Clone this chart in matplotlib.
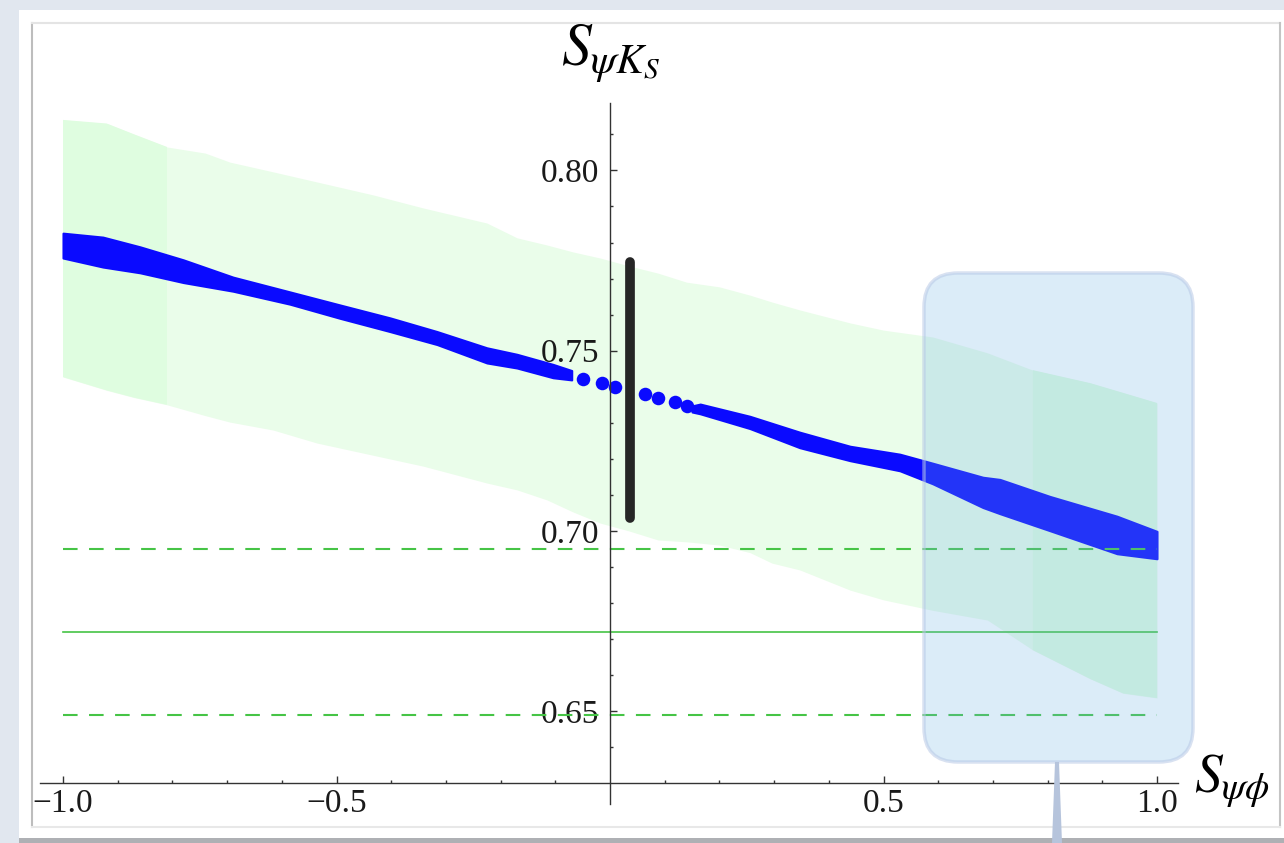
import numpy as np
import matplotlib.pyplot as plt
from matplotlib.patches import Rectangle, FancyBboxPatch, Polygon
from matplotlib.transforms import IdentityTransform

# allowed region (light green scan)
green_x = [-1.0, -0.92, -0.87, -0.81, -0.74, -0.695, -0.616, -0.536, -0.433, -0.342,
           -0.225, -0.17, -0.115, -0.068, -0.018, 0.035, 0.088, 0.14, 0.2, 0.256,
           0.296, 0.347, 0.439, 0.5, 0.59, 0.69, 0.773, 0.878, 0.938, 1.0]
green_top = [0.814, 0.813, 0.810, 0.8065, 0.8048, 0.8023, 0.7996, 0.7968, 0.7932, 0.7896,
             0.7854, 0.7813, 0.7793, 0.7774, 0.7757, 0.7735, 0.7715, 0.769, 0.7677, 0.7654,
             0.7635, 0.7613, 0.7577, 0.7557, 0.7538, 0.7494, 0.7446, 0.741, 0.7383, 0.7355]
green_bot = [0.7427, 0.739, 0.737, 0.735, 0.732, 0.7302, 0.728, 0.7244, 0.721, 0.718,
             0.7133, 0.7114, 0.7086, 0.7053, 0.7022, 0.700, 0.6975, 0.697, 0.6961, 0.694,
             0.6911, 0.6892, 0.6836, 0.6809, 0.678, 0.6753, 0.667, 0.659, 0.655, 0.6537]

# blue band, left and right branches
blue_lx = [-1.0, -0.927, -0.859, -0.78, -0.689, -0.585, -0.494, -0.402, -0.316, -0.225, -0.17, -0.104, -0.07]
blue_ltop = [0.7826, 0.7815, 0.7788, 0.7752, 0.7704, 0.7663, 0.7627, 0.7591, 0.7553, 0.7508, 0.749, 0.7462, 0.7445]
blue_lbot = [0.7757, 0.7732, 0.7716, 0.7689, 0.7665, 0.7629, 0.759, 0.7553, 0.7517, 0.7466, 0.7452, 0.7425, 0.7419]

blue_rx = [0.15, 0.165, 0.256, 0.347, 0.439, 0.53, 0.59, 0.682, 0.713, 0.804, 0.927, 1.0]
blue_rtop = [0.7347, 0.7352, 0.7318, 0.7274, 0.7235, 0.7213, 0.7188, 0.7149, 0.7143, 0.7096, 0.7041, 0.6999]
blue_rbot = [0.7330, 0.7325, 0.7284, 0.7231, 0.7195, 0.7167, 0.7131, 0.7065, 0.7048, 0.7001, 0.6937, 0.6923]

# isolated points near S_psiphi = 0
dots_x = [-0.049, -0.015, 0.009, 0.064, 0.088, 0.119, 0.141]
dots_y = [0.7422, 0.7411, 0.740, 0.7381, 0.737, 0.7359, 0.7348]

# SM value
sm_x = 0.0366
sm_y = [0.7035, 0.7745]

# experiment: central value and 1 sigma
exp_c = 0.672
exp_lo = 0.649
exp_hi = 0.695

x_major = [-1.0, -0.5, 0.5, 1.0]
x_labels = ['\u22121.0', '\u22120.5', '0.5', '1.0']
y_major = [0.65, 0.70, 0.75, 0.80]
y_labels = ['0.65', '0.70', '0.75', '0.80']

W, H = 1284, 843
plt.rcParams['font.family'] = ['Liberation Serif', 'DejaVu Serif']
plt.rcParams['mathtext.fontset'] = 'stix'

fig = plt.figure(figsize=(W / 100, H / 100), dpi=100)
fig.patch.set_facecolor('#e1e7ef')
px = IdentityTransform()

# paper frame
fig.add_artist(Rectangle((19, 0), W - 19, H - 838, fc='#aeb0b4', lw=0, transform=px, zorder=-3))
fig.add_artist(Rectangle((19, H - 838), W - 19, 828, fc='white', lw=0, transform=px, zorder=-2))
fig.add_artist(plt.Line2D([32, 32], [H - 827, H - 23], color='#bdbdbd', lw=1.5, transform=px, zorder=-1))
fig.add_artist(plt.Line2D([32, 1280], [H - 23, H - 23], color='#e4e4e4', lw=1.5, transform=px, zorder=-1))
fig.add_artist(plt.Line2D([1280, 1280], [H - 827, H - 23], color='#c4c4c4', lw=1.5, transform=px, zorder=-1))
fig.add_artist(plt.Line2D([32, 1280], [H - 827, H - 827], color='#e8e8e8', lw=1.5, transform=px, zorder=-1))

ax = fig.add_axes([0, 0, 1, 1])
ax.set_facecolor('none')
ax.set_xlim(-610 / 547, (W - 610) / 547)
ax.set_ylim(0.70 - (H - 531) / 3606, 0.70 + 531 / 3606)

gx = np.array(green_x)
ax.fill_between(gx, green_bot, green_top, color='#eafdea', lw=0, zorder=1)
solid = (gx <= -0.81) | (gx >= 0.773)
ax.fill_between(gx, green_bot, green_top, where=solid, color='#dffde0', lw=0, zorder=1.1)

ax.fill_between(blue_lx, blue_lbot, blue_ltop, color='#0a0aff', lw=1.5, edgecolor='#0a0aff', zorder=2)
ax.fill_between(blue_rx, blue_rbot, blue_rtop, color='#0a0aff', lw=1.5, edgecolor='#0a0aff', zorder=2)
ax.scatter(dots_x, dots_y, s=95, marker='o', color='#0a0aff', lw=0, zorder=2)

for yv, ls, lw in [(exp_hi, (0, (7, 5.5)), 1.5), (exp_c, '-', 1.2), (exp_lo, (0, (7, 5.5)), 1.5)]:
    ax.plot([-1, 1], [yv, yv], color='#46c446', ls=ls, lw=lw, zorder=3)

ax.plot([sm_x, sm_x], sm_y, color='#262626', lw=7, solid_capstyle='round', zorder=4)

for s in ['top', 'right']:
    ax.spines[s].set_visible(False)
ax.spines['left'].set_position(('data', 0))
ax.spines['bottom'].set_position(('data', 0.63))
ax.spines['left'].set_bounds(0.6242, 0.8186)
ax.spines['bottom'].set_bounds(-1.042, 1.038)
for s in ['left', 'bottom']:
    ax.spines[s].set_color('#333333')
    ax.spines[s].set_linewidth(1.0)
    ax.spines[s].set_zorder(5)

ax.set_xticks(x_major)
ax.set_xticklabels(x_labels)
ax.set_xticks([v for v in np.round(np.arange(-1.0, 1.01, 0.1), 2) if abs(v) > 1e-9], minor=True)
ax.set_yticks(y_major)
ax.set_yticklabels(y_labels)
ax.set_yticks(np.round(np.arange(0.64, 0.815, 0.01), 2), minor=True)
ax.tick_params(which='both', direction='in', color='#333333', width=1.0, labelsize=24, labelcolor='#1a1a1a')
ax.tick_params(which='major', length=5)
ax.tick_params(which='minor', length=2.5)
ax.tick_params(axis='x', which='major', pad=4)
ax.tick_params(axis='y', which='major', pad=8)

fig.text(611, H - 66, r'$S_{\psi K_S}$', transform=px, ha='center', va='baseline', fontsize=43)
fig.text(1194, H - 793, r'$S_{\psi\phi}$', transform=px, ha='left', va='baseline', fontsize=40)

# translucent rounded panel over the right side
fig.add_artist(FancyBboxPatch((924, H - 762), 1193 - 924, 762 - 273,
                              boxstyle='round,pad=0,rounding_size=34',
                              fc=(113 / 255, 180 / 255, 228 / 255, 0.25),
                              ec=(0.72, 0.79, 0.9, 0.55), lw=2.5, transform=px, zorder=10))
fig.add_artist(Polygon([(1052, 0), (1062, 0), (1059, H - 762), (1055, H - 762)],
                       closed=True, fc='#b6c4dc', lw=0, transform=px, zorder=10))

fig.savefig('out.png', dpi=100)
